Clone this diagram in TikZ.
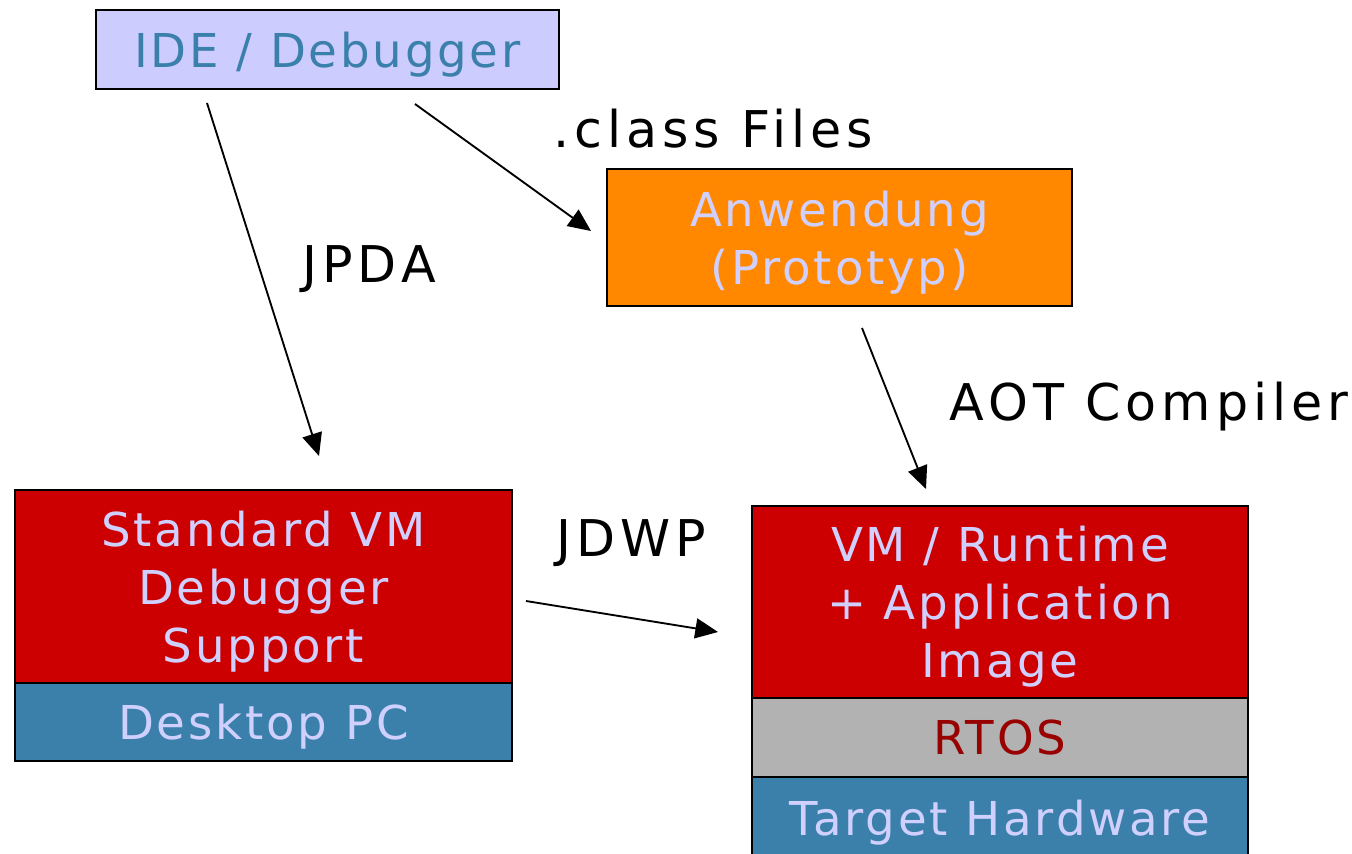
\documentclass[tikz,border=0pt]{standalone}
\usepackage{fontspec}
\setmainfont{DejaVu Sans}
\newfontfamily\boxfont[LetterSpace=6]{DejaVu Sans}
\newfontfamily\lblfont[LetterSpace=10]{DejaVu Sans}
\usetikzlibrary{arrows.meta}
\definecolor{lav}{HTML}{CCCCFF}
\definecolor{lavtext}{HTML}{D0D0FF}
\definecolor{steel}{HTML}{3B80AB}
\definecolor{vmred}{HTML}{CC0000}
\definecolor{orng}{HTML}{FF8800}
\definecolor{rtosgray}{HTML}{B2B2B2}
\definecolor{darkred}{HTML}{990000}
\tikzset{
  box/.style={draw=black, line width=1.5pt, inner sep=0pt, anchor=north west, align=center,
    text depth=0pt, font=\boxfont\fontsize{35}{43.5}\selectfont},
  lbl/.style={font=\lblfont\fontsize{38}{46}\selectfont, text=black},
  arr/.style={-{Triangle[length=17pt,width=15pt]}, line width=1.4pt, black}
}
\begin{document}
\begin{tikzpicture}[x=0.75pt,y=-0.75pt]
\useasboundingbox (0,0) rectangle (1352,853);
% top: IDE
\node[box, fill=lav, text=steel, minimum width=463*0.75pt, minimum height=79*0.75pt] (ide) at (95,9) {IDE / Debugger};
% application prototype
\node[box, fill=orng, text=lavtext, minimum width=465*0.75pt, minimum height=137*0.75pt] (app) at (606,168) {Anwendung\\(Prototyp)};
% desktop stack
\node[box, fill=vmred, text=lavtext, minimum width=497*0.75pt, minimum height=193*0.75pt] (svm) at (14,489) {Standard VM\\Debugger\\Support};
\node[box, fill=steel, text=lavtext, minimum width=497*0.75pt, minimum height=78*0.75pt] (pc) at (14,682) {Desktop PC};
% target stack
\node[box, fill=vmred, text=lavtext, minimum width=496*0.75pt, minimum height=192*0.75pt] (rt) at (751,505) {VM / Runtime\\+ Application\\Image};
\node[box, fill=rtosgray, text=darkred, minimum width=496*0.75pt, minimum height=79*0.75pt] (rtos) at (751,697) {RTOS};
\node[box, fill=steel, text=lavtext, minimum width=496*0.75pt, minimum height=82*0.75pt] (hw) at (751,776) {Target Hardware};
% labels
\node[lbl] (lclass) at (713,129) {.class Files};
\node[lbl] (ljpda) at (369,269) {JPDA};
\node[lbl] (laot) at (1149,407) {AOT Compiler};
\node[lbl] (ljdwp) at (631,543) {JDWP};
% connectors
\coordinate (a1s) at (207,103); \coordinate (a1e) at (319,456);
\coordinate (a2s) at (415,104); \coordinate (a2e) at (591,231);
\coordinate (a3s) at (862,328); \coordinate (a3e) at (926,489);
\coordinate (a4s) at (526,601); \coordinate (a4e) at (718,632);
\draw[arr] (a1s) -- (a1e);
\draw[arr] (a2s) -- (a2e);
\draw[arr] (a3s) -- (a3e);
\draw[arr] (a4s) -- (a4e);
\end{tikzpicture}
\end{document}
